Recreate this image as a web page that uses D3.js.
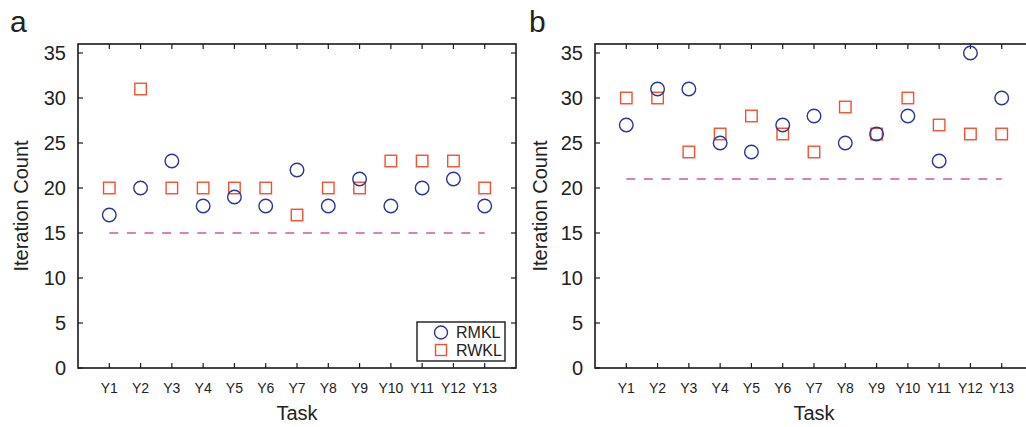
<!DOCTYPE html>
<html>
<head>
<meta charset="utf-8">
<script src="https://cdn.jsdelivr.net/npm/d3@7"></script>
<style>
  html, body { margin: 0; padding: 0; background: #fff; overflow: hidden; }
  svg { display: block; }
  text { font-family: "Liberation Sans", Arial, sans-serif; fill: #222; }
</style>
</head>
<body>
<svg id="chart" width="1026" height="427"></svg>
<script>
// Task labels along the x axis
const tasks = ["Y1","Y2","Y3","Y4","Y5","Y6","Y7","Y8","Y9","Y10","Y11","Y12","Y13"];
const yTicks = [0, 5, 10, 15, 20, 25, 30, 35];

// Panel a: iteration counts per task
const rmklA = [17, 20, 23, 18, 19, 18, 22, 18, 21, 18, 20, 21, 18];
const rwklA = [20, 31, 20, 20, 20, 20, 17, 20, 20, 23, 23, 23, 20];
const baselineA = 15;

// Panel b: iteration counts per task
const rmklB = [27, 31, 31, 25, 24, 27, 28, 25, 26, 28, 23, 35, 30];
const rwklB = [30, 30, 24, 26, 28, 26, 24, 29, 26, 30, 27, 26, 26];
const baselineB = 21;

const seriesNames = ["RMKL", "RWKL"];

const BLUE = "#2a3796";
const ORANGE = "#f2512f";
const PINK = "#cc58ae";
const AXIS = "#1a1a1a";

const svg = d3.select("#chart");

function panel(opts) {
  const { left, right, top, bottom, letter, letterX, titleX, taskX, rmkl, rwkl, baseline, legend } = opts;
  const g = svg.append("g");

  const x = d3.scaleLinear().domain([0, tasks.length + 1]).range([left, right]);
  const y = d3.scaleLinear().domain([0, 36]).range([bottom, top]);
  const xi = i => x(i + 1);

  // Inner ticks on all four sides
  const tickLen = 5;
  const tickG = g.append("g").attr("stroke", AXIS).attr("stroke-width", 1.2);
  tasks.forEach((t, i) => {
    tickG.append("line").attr("x1", xi(i)).attr("x2", xi(i)).attr("y1", bottom).attr("y2", bottom - tickLen);
    tickG.append("line").attr("x1", xi(i)).attr("x2", xi(i)).attr("y1", top).attr("y2", top + tickLen);
  });
  yTicks.forEach(v => {
    tickG.append("line").attr("x1", left).attr("x2", left + tickLen).attr("y1", y(v)).attr("y2", y(v));
    tickG.append("line").attr("x1", right).attr("x2", right - tickLen).attr("y1", y(v)).attr("y2", y(v));
  });

  // Frame
  g.append("rect").attr("x", left).attr("y", top).attr("width", right - left).attr("height", bottom - top)
    .attr("fill", "none").attr("stroke", AXIS).attr("stroke-width", 1.6);

  // Tick labels
  g.selectAll(".ytl").data(yTicks).join("text")
    .attr("x", left - 12).attr("y", d => y(d)).attr("dy", "0.36em")
    .attr("text-anchor", "end").attr("font-size", 20).text(d => d);
  g.selectAll(".xtl").data(tasks).join("text")
    .attr("x", (d, i) => xi(i)).attr("y", bottom + 20).attr("dy", "0.36em")
    .attr("text-anchor", "middle").attr("font-size", 14).text(d => d);

  // Axis titles
  g.append("text").attr("x", taskX).attr("y", bottom + 52)
    .attr("text-anchor", "middle").attr("font-size", 20).text("Task");
  g.append("text").attr("transform", `translate(${titleX},${(top + bottom) / 2}) rotate(-90)`)
    .attr("text-anchor", "middle").attr("dy", "0.36em").attr("font-size", 20).text("Iteration Count");

  // Panel letter
  g.append("text").attr("x", letterX).attr("y", 32).attr("font-size", 30).text(letter);

  const plot = g.append("g");

  // Dashed reference line
  plot.append("line")
    .attr("x1", xi(0)).attr("x2", xi(tasks.length - 1))
    .attr("y1", y(baseline)).attr("y2", y(baseline))
    .attr("stroke", PINK).attr("stroke-width", 1.4).attr("stroke-dasharray", "9,8.6");

  // RWKL squares
  const s = 11.5;
  plot.selectAll(".sq").data(rwkl).join("rect")
    .attr("x", (d, i) => xi(i) - s / 2).attr("y", d => y(d) - s / 2)
    .attr("width", s).attr("height", s)
    .attr("fill", "none").attr("stroke", ORANGE).attr("stroke-width", 1.4);

  // RMKL circles
  plot.selectAll(".ci").data(rmkl).join("circle")
    .attr("cx", (d, i) => xi(i)).attr("cy", d => y(d)).attr("r", 6.8)
    .attr("fill", "none").attr("stroke", BLUE).attr("stroke-width", 1.4);

  if (legend) {
    const lx = 417, ly = 322, lw = 88, lh = 39;
    const lg = g.append("g");
    lg.append("rect").attr("x", lx).attr("y", ly).attr("width", lw).attr("height", lh)
      .attr("fill", "#fff").attr("stroke", AXIS).attr("stroke-width", 1.4);
    lg.append("circle").attr("cx", lx + 24).attr("cy", ly + 10.5).attr("r", 6.5)
      .attr("fill", "none").attr("stroke", BLUE).attr("stroke-width", 1.4);
    lg.append("rect").attr("x", lx + 24 - 5.5).attr("y", ly + 28 - 5.5).attr("width", 11).attr("height", 11)
      .attr("fill", "none").attr("stroke", ORANGE).attr("stroke-width", 1.4);
    lg.selectAll(".lt").data(seriesNames).join("text")
      .attr("x", lx + 39).attr("y", (d, i) => ly + 10.5 + i * 17.5).attr("dy", "0.36em")
      .attr("font-size", 16).text(d => d);
  }
}

panel({ left: 78, right: 516, top: 44, bottom: 368, letter: "a", letterX: 10, titleX: 21, taskX: 297,
        rmkl: rmklA, rwkl: rwklA, baseline: baselineA, legend: true });
panel({ left: 595, right: 1033, top: 44, bottom: 368, letter: "b", letterX: 529, titleX: 540, taskX: 814,
        rmkl: rmklB, rwkl: rwklB, baseline: baselineB, legend: false });
</script>
</body>
</html>
